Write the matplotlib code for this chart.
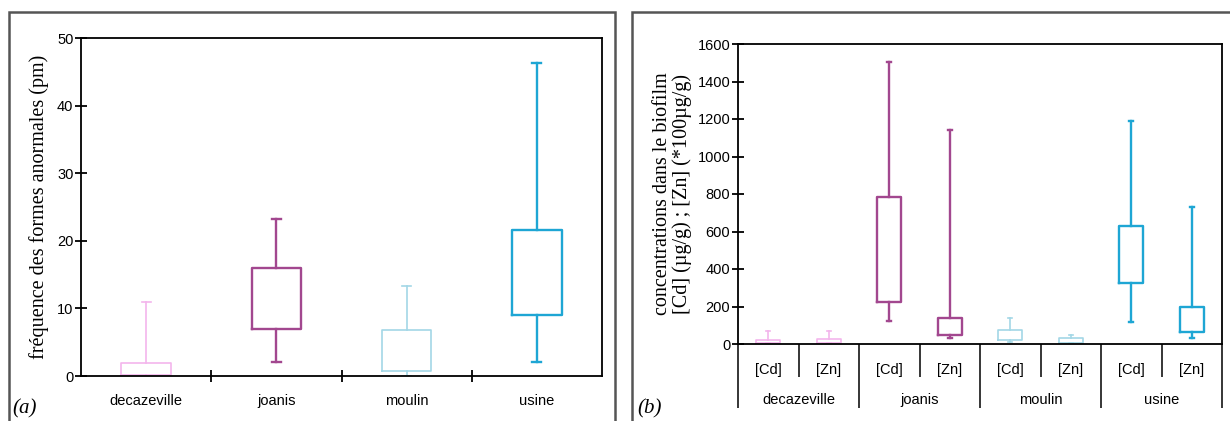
import matplotlib.pyplot as plt
from matplotlib.patches import Rectangle

plt.rcParams['font.family'] = ['Liberation Sans', 'DejaVu Sans']

# ---- data (a): abnormal forms frequency
sites = ['decazeville', 'joanis', 'moulin', 'usine']
colors = ['#f3b5ec', '#a2478f', '#a3d7e6', '#1ea6d4']
a_low = [0.0, 2.1, 0.0, 2.1]
a_q1 = [0.15, 7.0, 0.75, 9.0]
a_q3 = [1.97, 16.0, 6.8, 21.65]
a_high = [11.0, 23.2, 13.3, 46.3]

# ---- data (b): Cd / Zn concentrations in biofilm
metals = ['[Cd]', '[Zn]']
b_low = [3, 3, 121, 32, 11, 3, 117, 32]
b_q1 = [8, 6, 223, 48, 20, 6, 328, 62]
b_q3 = [22, 28, 782, 138, 73, 30, 630, 200]
b_high = [67, 71, 1504, 1139, 138, 50, 1190, 731]

serif = ['Liberation Serif', 'DejaVu Serif']
TICK_FS = 10.5


def stats(low, q1, q3, high):
    return [dict(whislo=l, q1=a, med=a, q3=b, whishi=h, fliers=[])
            for l, a, b, h in zip(low, q1, q3, high)]


def draw_boxes(ax, st, pos, cols, width, lws):
    for s, p, c, lw in zip(st, pos, cols, lws):
        ax.bxp([s], positions=[p], widths=width, showfliers=False,
               boxprops=dict(color=c, lw=lw),
               whiskerprops=dict(color=c, lw=lw),
               capprops=dict(color=c, lw=lw),
               medianprops=dict(visible=False),
               capwidths=width * 0.18, manage_ticks=False)


fig = plt.figure(figsize=(12.3, 4.21), dpi=100)

# panel frames
fig.add_artist(Rectangle((9 / 1230, -0.1), 606 / 1230, 1.1 - 12 / 421,
                         transform=fig.transFigure, fill=False,
                         ec='#555555', lw=1.8))
fig.add_artist(Rectangle((632 / 1230, -0.1), 0.6, 1.1 - 12 / 421,
                         transform=fig.transFigure, fill=False,
                         ec='#555555', lw=1.8))

# ---- panel (a)
ax1 = fig.add_axes([81 / 1230, 1 - 376 / 421, 521 / 1230, 338 / 421])
pos_a = list(range(1, len(sites) + 1))
draw_boxes(ax1, stats(a_low, a_q1, a_q3, a_high), pos_a, colors, 0.38,
           [1.2, 1.7, 1.2, 1.7])
ax1.set_xlim(0.5, len(sites) + 0.5)
ax1.set_ylim(0, 50)
ax1.set_yticks(range(0, 51, 10))
ax1.set_xticks(pos_a)
ax1.set_xticklabels(sites, fontsize=TICK_FS)
ax1.set_xticks([p + 0.5 for p in pos_a[:-1]], minor=True)
ax1.tick_params(axis='x', which='major', length=0, pad=13)
ax1.tick_params(axis='x', which='minor', direction='inout', length=9, width=1.3)
ax1.tick_params(axis='y', direction='inout', length=9, width=1.3,
                labelsize=TICK_FS, pad=1)
for sp in ax1.spines.values():
    sp.set_linewidth(1.3)
ax1.set_ylabel('fréquence des formes anormales (pm)', family=serif,
               fontsize=14.5, labelpad=6)
fig.text(12 / 1230, 1 - 409 / 421, '(a)', family=serif, style='italic',
         fontsize=15, va='center')

# ---- panel (b)
ax2 = fig.add_axes([738 / 1230, 1 - 344 / 421, 484 / 1230, 300 / 421])
n = len(sites) * len(metals)
pos_b = list(range(1, n + 1))
col_b = [c for c in colors for _ in metals]
lw_b = [lw for lw in [1.2, 1.7, 1.2, 1.7] for _ in metals]
draw_boxes(ax2, stats(b_low, b_q1, b_q3, b_high), pos_b, col_b, 0.4, lw_b)
ax2.set_xlim(0.5, n + 0.5)
ax2.set_ylim(0, 1600)
ax2.set_yticks(range(0, 1601, 200))
ax2.tick_params(axis='y', direction='inout', length=9, width=1.3,
                labelsize=TICK_FS, pad=1)
ax2.set_xticks(pos_b)
ax2.set_xticklabels(metals * len(sites), fontsize=TICK_FS)
ax2.set_xticks([p + 0.5 for p in pos_b[::2]], minor=True)
ax2.tick_params(axis='x', which='major', length=0, pad=14)
ax2.tick_params(axis='x', which='minor', direction='out', length=24, width=1.1)
for sp in ax2.spines.values():
    sp.set_linewidth(1.3)
ax2.set_ylabel('concentrations dans le biofilm\n[Cd] (µg/g) ; [Zn] (*100µg/g)',
               family=serif, fontsize=14.5, labelpad=4, linespacing=1.0)

sec = ax2.secondary_xaxis('bottom')
sec.spines['bottom'].set_visible(False)
sec.set_xticks([0.5 + 2 * i for i in range(len(sites) + 1)])
sec.set_xticklabels([])
sec.set_xticks([1.5 + 2 * i for i in range(len(sites))], minor=True)
sec.set_xticklabels(sites, minor=True, fontsize=TICK_FS)
sec.tick_params(axis='x', which='major', direction='out', length=46, width=1.1)
sec.tick_params(axis='x', which='minor', length=0, pad=35)
fig.text(637 / 1230, 1 - 409 / 421, '(b)', family=serif, style='italic',
         fontsize=15, va='center')

fig.savefig('out.png', dpi=100)
